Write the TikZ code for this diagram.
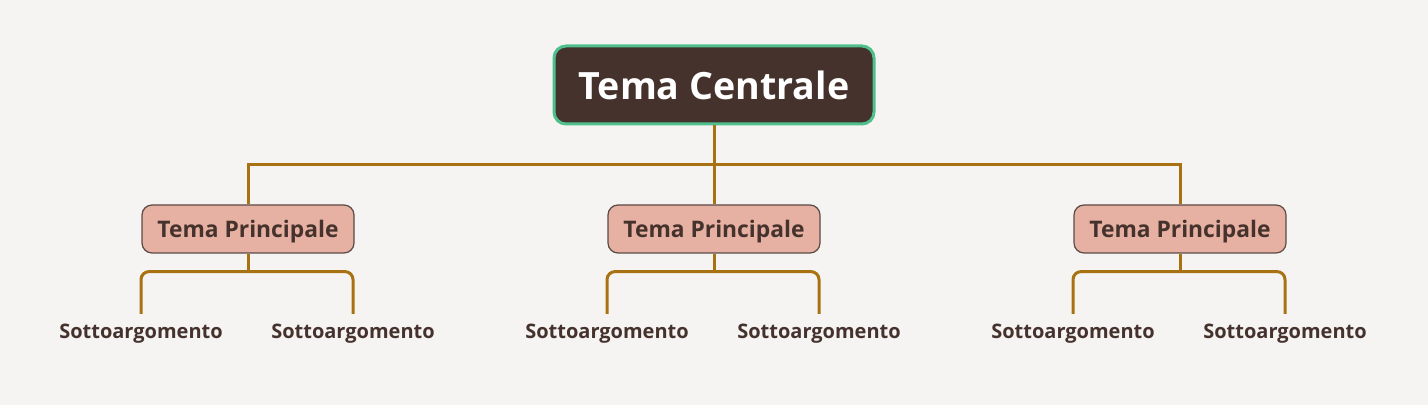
\documentclass[tikz,border=0pt]{standalone}
\usepackage{fontspec}
\setmainfont{Open Sans}
\definecolor{bgcol}{HTML}{F5F4F2}
\definecolor{darkbrown}{HTML}{45322C}
\definecolor{greenedge}{HTML}{4FC08D}
\definecolor{pinkfill}{HTML}{E6B0A2}
\definecolor{greyedge}{HTML}{5A4A45}
\definecolor{linkcol}{HTML}{A87212}
\begin{document}
\begin{tikzpicture}[x=0.5pt,y=-0.5pt,
  centralbox/.style={draw=greenedge,line width=1.5pt,fill=darkbrown,rounded corners=6pt,
    minimum width=160pt,minimum height=39pt,text=white,font=\bfseries\fontsize{18.8}{22}\selectfont},
  mainbox/.style={draw=greyedge,line width=0.6pt,fill=pinkfill,rounded corners=5pt,
    minimum width=106pt,minimum height=24pt,text height=8.2pt,text depth=0pt,
    text=darkbrown,font=\bfseries\fontsize{11.4}{14}\selectfont},
  subtext/.style={text=darkbrown,inner sep=2pt,font=\bfseries\fontsize{10}{12}\selectfont},
  link/.style={draw=linkcol,line width=1.5pt},
  sublink/.style={link,rounded corners=4pt}]
\fill[bgcol] (0,0) rectangle (1428,405);
\node[centralbox] (c) at (714,85) {Tema Centrale};
\node[mainbox] (m1) at (248,229) {Tema Principale};
\node[mainbox] (m2) at (714,229) {Tema Principale};
\node[mainbox] (m3) at (1180,229) {Tema Principale};
\node[subtext] (s11) at (141,334) {Sottoargomento};
\node[subtext] (s12) at (353,334) {Sottoargomento};
\node[subtext] (s21) at (607,334) {Sottoargomento};
\node[subtext] (s22) at (819,334) {Sottoargomento};
\node[subtext] (s31) at (1073,334) {Sottoargomento};
\node[subtext] (s32) at (1285,334) {Sottoargomento};
\draw[link] (c.south) -- ++(0,39) -| (m1.north);
\draw[link] (c.south) -- ++(0,39) -| (m3.north);
\draw[link] (c.south) -- (m2.north);
\foreach \m in {1,2,3}{
  \draw[link] (m\m.south) -- ++(0,18);
  \draw[sublink] ([yshift=3pt]s\m1.north) |- ([yshift=-9pt]m\m.south) -| ([yshift=3pt]s\m2.north);
}
\end{tikzpicture}
\end{document}
